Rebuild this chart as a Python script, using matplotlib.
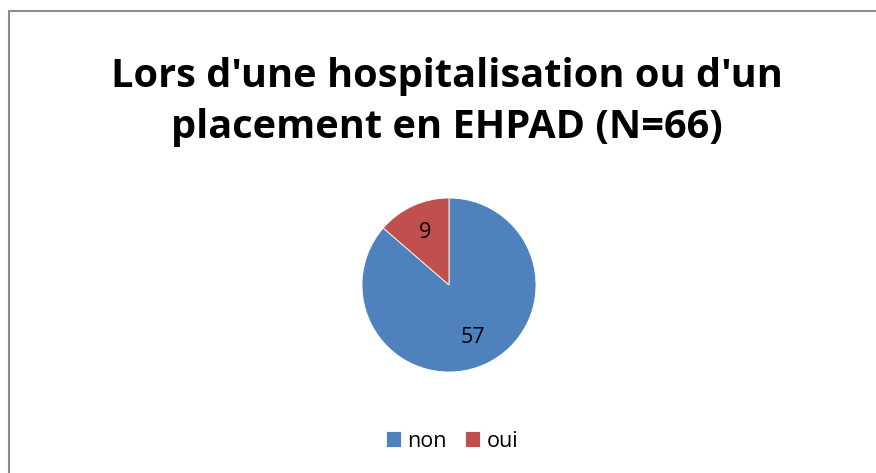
import matplotlib
matplotlib.use("Agg")
import matplotlib.pyplot as plt
from matplotlib.patches import Rectangle

# data
labels = ["non", "oui"]
counts = [57, 9]
colors = ["#4F81BD", "#C0504D"]
title = "Lors d'une hospitalisation ou d'un\nplacement en EHPAD (N=66)"

plt.rcParams['font.family'] = ['Open Sans', 'DejaVu Sans']

fig = plt.figure(figsize=(8.76, 4.73), dpi=100)

# chart frame (only left and top edges visible in the crop)
fig.patches.append(Rectangle((9 / 876, -0.1), 1.2, 1 - 11.5 / 473 + 0.1,
                             transform=fig.transFigure, fill=False,
                             edgecolor="#8c8c8c", linewidth=1.5))

fig.text(447 / 876, 1 - 102 / 473, title, ha="center", va="center",
         fontsize=28.6, fontweight="bold", linespacing=1.4)

# pie axes: centre (449, 285), radius ~87 px
r = 87
cx, cy = 449, 285
ax = fig.add_axes([(cx - r) / 876, 1 - (cy + r) / 473, 2 * r / 876, 2 * r / 473])
wedges, texts = ax.pie(counts, colors=colors, startangle=90, counterclock=False,
                       wedgeprops=dict(edgecolor="white", linewidth=0.6),
                       labels=[str(c) for c in counts], labeldistance=0.66,
                       textprops=dict(fontsize=15.5, color="black"))
for t in texts:
    t.set_ha("center")
    t.set_va("center")
ax.set_xlim(-1, 1)
ax.set_ylim(-1, 1)
ax.set_aspect("equal")

ax.legend(wedges, labels, loc="center", bbox_to_anchor=(452 / 876, 1 - 441 / 473),
          bbox_transform=fig.transFigure, ncol=2, frameon=False,
          fontsize=15.5, handlelength=0.7, handleheight=0.7,
          handletextpad=0.3, columnspacing=0.85)

fig.savefig("out.png", dpi=100)
